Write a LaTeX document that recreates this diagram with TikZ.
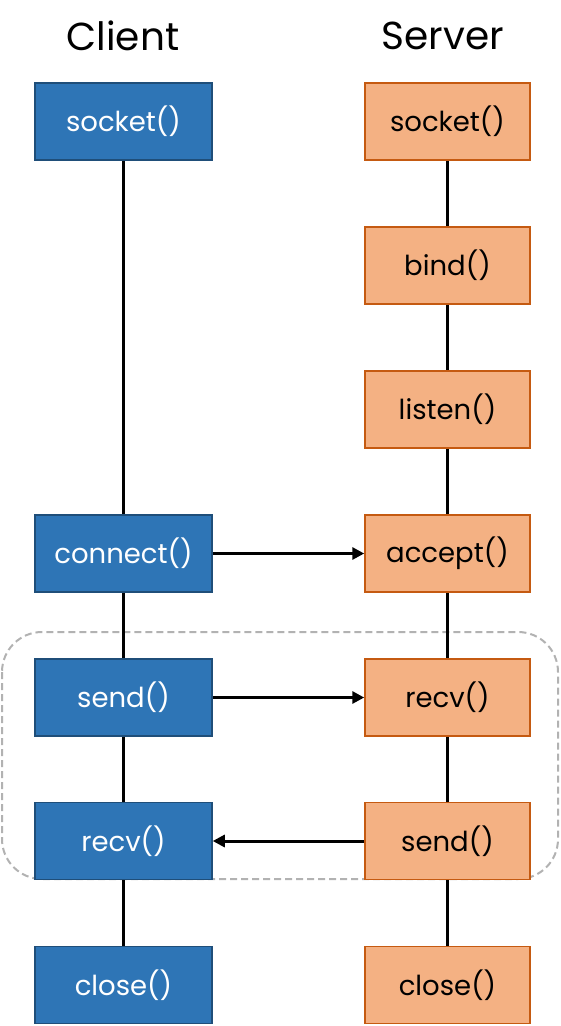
\documentclass[tikz,border=0pt]{standalone}
\usepackage{fontspec}
\setmainfont{Poppins}
\usetikzlibrary{arrows.meta,positioning}

\definecolor{cfill}{HTML}{2E75B6}
\definecolor{cline}{HTML}{1F4E79}
\definecolor{sfill}{HTML}{F4B183}
\definecolor{sline}{HTML}{C55A11}

\tikzset{
  call/.style={minimum width=177pt,minimum height=77pt,line width=1.5pt,
    font=\fontsize{27.5}{33}\selectfont},
  clientbox/.style={call,draw=cline,fill=cfill,text=white},
  serverbox/.style={call,draw=sline,fill=sfill,text=black,minimum width=165pt},
  title/.style={font=\fontsize{39}{46}\selectfont},
  msg/.style={line width=3pt,-{Triangle[length=12pt,width=12pt]}},
  link/.style={line width=3pt}
}

\begin{document}
\begin{tikzpicture}[x=1pt,y=-1pt]
  \useasboundingbox (0,0) rectangle (560,1026);

  % dashed frame round the exchange of messages
  \draw[gray!60,line width=2pt,dash pattern=on 7pt off 4pt,rounded corners=40pt]
    (2,632) rectangle (558,879);

  % column headings
  \node[title] (ctitle) at (123,36) {Client};
  \node[title] (stitle) at (443,36) {Server};

  % client calls
  \node[clientbox] (csocket)  at (123.5,121.5) {socket()};
  \node[clientbox] (cconnect) at (123.5,553.5) {connect()};
  \node[clientbox] (csend)    at (123.5,697.5) {send()};
  \node[clientbox] (crecv)    at (123.5,841)   {recv()};
  \node[clientbox] (cclose)   at (123.5,985)   {close()};

  % server calls
  \node[serverbox] (ssocket) at (447.5,121.5) {socket()};
  \node[serverbox] (sbind)   at (447.5,265.5) {bind()};
  \node[serverbox] (slisten) at (447.5,409.5) {listen()};
  \node[serverbox] (saccept) at (447.5,553.5) {accept()};
  \node[serverbox] (srecv)   at (447.5,697.5) {recv()};
  \node[serverbox] (ssend)   at (447.5,841)   {send()};
  \node[serverbox] (sclose)  at (447.5,985)   {close()};

  % order of calls on each side
  \draw[link] (csocket) -- (cconnect) -- (csend) -- (crecv) -- (cclose);
  \draw[link] (ssocket) -- (sbind) -- (slisten) -- (saccept) -- (srecv) -- (ssend) -- (sclose);

  % messages
  \draw[msg] (cconnect) -- (saccept);
  \draw[msg] (csend) -- (srecv);
  \draw[msg] (ssend) -- (crecv);
\end{tikzpicture}
\end{document}
